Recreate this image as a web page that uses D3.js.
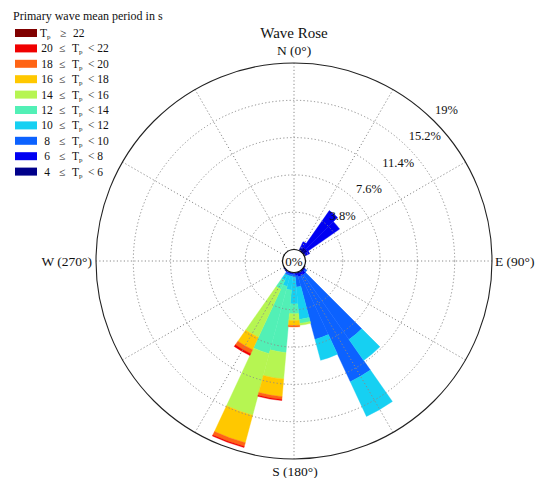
<!DOCTYPE html>
<html>
<head>
<meta charset="utf-8">
<script src="https://cdn.jsdelivr.net/npm/d3@7"></script>
<style>
  html, body { margin: 0; padding: 0; background: #fff; }
  svg { display: block; }
  text { font-family: "Liberation Serif", "Times New Roman", serif; fill: #111; }
</style>
</head>
<body>
<svg id="chart" width="537" height="478"></svg>
<script>
// Direction bins (degrees clockwise from north), 10° wide
const directions = [30, 40, 50, 60, 120, 130, 140, 150, 160, 170, 180, 190, 200, 210, 220, 230];

// Frequency (%) per direction for each primary wave mean period class
const tp4to6   = [0.3, 0.5, 0.5, 0.2, 0.1, 0.15, 0.2, 0.2, 0.2, 0.15, 0.1, 0.1, 0.1, 0.1, 0.15, 0.1];
const tp6to8   = [0.7, 4.6, 4.0, 0.4, 0, 0.1, 0.3, 0.3, 0.3, 0.2, 0.1, 0.1, 0.1, 0.1, 0, 0];
const tp8to10  = [0, 0, 0, 0, 0, 0.2, 8.1, 11.9, 6.6, 1.15, 0.3, 0.2, 0.2, 0.2, 0, 0];
const tp10to12 = [0, 0, 0, 0, 0, 0, 2.6, 3.9, 2.2, 3.3, 2.7, 1.4, 1.1, 0.6, 0, 0];
const tp12to14 = [0, 0, 0, 0, 0, 0, 0, 0, 0, 0.4, 1.0, 6.4, 7.1, 1.0, 0, 0];
const tp14to16 = [0, 0, 0, 0, 0, 0, 0, 0, 0, 0.2, 0.7, 2.7, 6.5, 5.4, 0, 0];
const tp16to18 = [0, 0, 0, 0, 0, 0, 0, 0, 0, 0, 0.5, 1.8, 2.9, 1.4, 0, 0];
const tp18to20 = [0, 0, 0, 0, 0, 0, 0, 0, 0, 0, 0.15, 0.3, 0.4, 0.45, 0, 0];
const tp20to22 = [0, 0, 0, 0, 0, 0, 0, 0, 0, 0, 0, 0.1, 0.1, 0.2, 0, 0];
const tp22up   = [0, 0, 0, 0, 0, 0, 0, 0, 0, 0, 0, 0, 0, 0, 0, 0];

// Period classes, lowest first (stacking order from the centre outwards)
const classKeys   = ["4-6", "6-8", "8-10", "10-12", "12-14", "14-16", "16-18", "18-20", "20-22", "22+"];
const classLow    = [4, 6, 8, 10, 12, 14, 16, 18, 20, 22];
const classHigh   = [6, 8, 10, 12, 14, 16, 18, 20, 22, null];
const classColors = ["#00008a", "#0000f2", "#0c62ff", "#16d0f2", "#52f0b6", "#b6f552", "#ffc800", "#ff6414", "#f00000", "#800000"];
const classSeries = [tp4to6, tp6to8, tp8to10, tp10to12, tp12to14, tp14to16, tp16to18, tp18to20, tp20to22, tp22up];

// Radial ticks (%)
const ringTicks = [3.8, 7.6, 11.4, 15.2, 19];
const spokeAngles = d3.range(0, 360, 30);
const compassLabels = ["N (0°)", "E (90°)", "S (180°)", "W (270°)"];

const binWidth = 10;
const cx = 294, cy = 261;
const holeR = 11.5, outerR = 198;

const svg = d3.select("#chart");
const rad = deg => deg * Math.PI / 180;
const r = d3.scaleLinear().domain([0, 19]).range([holeR, outerR]);

// Table for d3.stack built from the arrays above
const table = directions.map((dir, i) => {
  const row = { dir };
  classKeys.forEach((k, j) => { row[k] = classSeries[j][i]; });
  return row;
});
const stacked = d3.stack().keys(classKeys)(table);

const g = svg.append("g").attr("transform", `translate(${cx},${cy})`);

// Wedges
const arc = d3.arc()
  .innerRadius(d => r(d[0]))
  .outerRadius(d => r(d[1]))
  .startAngle(d => rad(d.data.dir - binWidth / 2))
  .endAngle(d => rad(d.data.dir + binWidth / 2));

stacked.forEach((layer, j) => {
  g.append("g")
    .selectAll("path")
    .data(layer.filter(d => d[1] - d[0] > 0))
    .join("path")
    .attr("d", arc)
    .attr("fill", classColors[j])
    .attr("stroke", classColors[j])
    .attr("stroke-width", 0.4);
});

// Dotted grid over the wedges
const grid = g.append("g").attr("fill", "none").attr("stroke", "#8a8a8a")
  .attr("stroke-width", 1).attr("stroke-dasharray", "1.2,2.3");

grid.selectAll("circle.ring")
  .data(ringTicks.slice(0, -1))
  .join("circle")
  .attr("class", "ring")
  .attr("r", d => r(d));

grid.selectAll("line.spoke")
  .data(spokeAngles)
  .join("line")
  .attr("class", "spoke")
  .attr("x1", d => holeR * Math.sin(rad(d)))
  .attr("y1", d => -holeR * Math.cos(rad(d)))
  .attr("x2", d => outerR * Math.sin(rad(d)))
  .attr("y2", d => -outerR * Math.cos(rad(d)));

// Outer boundary
g.append("circle")
  .attr("r", r(19))
  .attr("fill", "none")
  .attr("stroke", "#222")
  .attr("stroke-width", 1.1);

// Centre hole
g.append("circle")
  .attr("r", holeR)
  .attr("fill", "#fff")
  .attr("stroke", "#111")
  .attr("stroke-width", 1.2);
g.append("text")
  .attr("x", 0).attr("y", 5)
  .attr("text-anchor", "middle")
  .attr("font-size", 13)
  .text("0%");

// Ring labels along the 45° direction
g.selectAll("text.ringlab")
  .data(ringTicks)
  .join("text")
  .attr("class", "ringlab")
  .attr("x", d => r(d) * Math.SQRT1_2 + 1)
  .attr("y", d => -r(d) * Math.SQRT1_2 - 7)
  .attr("font-size", 12.5)
  .text(d => d + "%");

// Compass labels
g.append("text").attr("x", 0).attr("y", -206).attr("text-anchor", "middle")
  .attr("font-size", 13.5).text(compassLabels[0]);
g.append("text").attr("x", 201).attr("y", 5).attr("text-anchor", "start")
  .attr("font-size", 13.5).text(compassLabels[1]);
g.append("text").attr("x", 1).attr("y", 215).attr("text-anchor", "middle")
  .attr("font-size", 13.5).text(compassLabels[2]);
g.append("text").attr("x", -202).attr("y", 5).attr("text-anchor", "end")
  .attr("font-size", 13.5).text(compassLabels[3]);

// Title
svg.append("text")
  .attr("x", cx).attr("y", 38)
  .attr("text-anchor", "middle")
  .attr("font-size", 15)
  .text("Wave Rose");

// Legend
svg.append("text")
  .attr("x", 13).attr("y", 20)
  .attr("font-size", 12)
  .text("Primary wave mean period in s");

const legendOrder = d3.range(classKeys.length).reverse();
const leg = svg.append("g");
legendOrder.forEach((j, row) => {
  const y = 33 + row * 15.4;
  leg.append("rect")
    .attr("x", 15).attr("y", y - 4)
    .attr("width", 22).attr("height", 8)
    .attr("fill", classColors[j]);
  const fs = 11.5;
  if (classHigh[j] === null) {
    const t = leg.append("text").attr("font-size", fs).attr("y", y + 4);
    t.append("tspan").attr("x", 40).text("T");
    t.append("tspan").attr("font-size", 7).attr("dy", 2).text("p");
    t.append("tspan").attr("x", 60).attr("dy", -2).text("≥");
    t.append("tspan").attr("x", 73).text(classLow[j]);
  } else {
    leg.append("text").attr("font-size", fs).attr("x", 47).attr("y", y + 4)
      .attr("text-anchor", "middle").text(classLow[j]);
    const t = leg.append("text").attr("font-size", fs).attr("y", y + 4);
    t.append("tspan").attr("x", 59).text("≤");
    t.append("tspan").attr("x", 72).text("T");
    t.append("tspan").attr("font-size", 7).attr("dy", 2).text("p");
    t.append("tspan").attr("x", 88).attr("dy", -2).text("< " + classHigh[j]);
  }
});
</script>
</body>
</html>
